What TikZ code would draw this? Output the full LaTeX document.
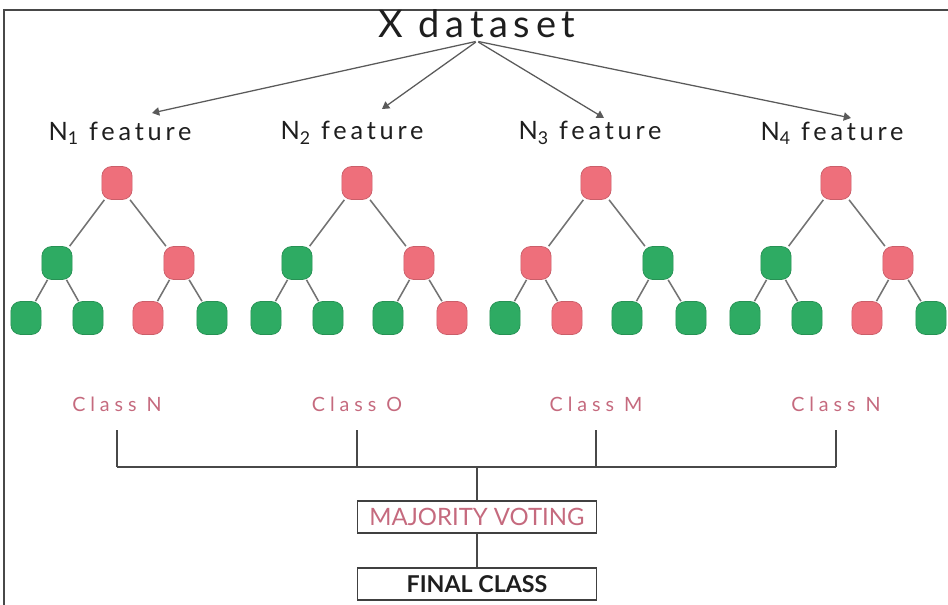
\documentclass[tikz,border=0pt]{standalone}
\usepackage{fontspec}
\setmainfont{Lato}
\newfontfamily\widefont[LetterSpace=15]{Lato}
\newfontfamily\loosefont[LetterSpace=25]{Lato}
\usetikzlibrary{arrows.meta,positioning}
\definecolor{ink}{HTML}{1E1E1E}
\definecolor{wire}{HTML}{5A5A5A}
\definecolor{good}{HTML}{2EAB63}
\definecolor{bad}{HTML}{EE6F7B}
\definecolor{rose}{HTML}{C56A7E}
\tikzset{>=Triangle,
  frame/.style={draw=wire!80!black,line width=1.4pt},
  title/.style={font=\fontsize{27}{30}\selectfont\widefont,text=ink,inner sep=2pt},
  feature/.style={font=\fontsize{18}{20}\selectfont\widefont,text=ink},
  pointer/.style={->,draw=wire,line width=.9pt,shorten <=1pt},
  treenode/.style={rounded corners=7pt,minimum width=21.5pt,minimum height=23.5pt,
    inner sep=0pt,line width=.5pt},
  branch/.style={draw=wire!85,line width=1.1pt},
  verdict/.style={font=\fontsize{14}{16}\selectfont\loosefont,text=rose},
  bus/.style={draw=wire!80!black,line width=1.1pt},
  ballot/.style={draw=ink!85,line width=1.3pt,minimum width=170pt,minimum height=23pt,
    inner sep=0pt,font=\fontsize{17}{19}\selectfont}}
\begin{document}
\begin{tikzpicture}[x=0.025cm,y=-0.025cm]
\useasboundingbox (0,0) rectangle (948,605);
\draw[frame] (4,605) -- (4,10) -- (948,10);
% input and the four feature subsets
\node[title] (data) at (477,24) {X dataset};
\foreach \i/\x in {1/120,2/352,3/590,4/832}
  \node[feature] (f\i) at (\x,133) {N\textsubscript{\i} feature};
\foreach \i/\x/\y in {1/152/113,2/382/109,3/604/118,4/851/118} {
  \coordinate (t\i) at (\x,\y);
  \draw[pointer] (data.south) -- (t\i);}
% one decision tree per subset
\foreach \t/\cx/\l/\r/\a/\b/\c/\d in {1/117/good/bad/good/good/bad/good,
    2/357/good/bad/good/good/good/bad,3/596/bad/good/good/bad/good/good,
    4/836/good/bad/good/good/bad/good} {
  \node[treenode,fill=bad,draw=bad!85!black] (r\t) at (\cx,183) {};
  \node[treenode,fill=\l,draw=\l!85!black] (l\t) at (\cx-60,263) {};
  \node[treenode,fill=\r,draw=\r!85!black] (q\t) at (\cx+62,263) {};
  \node[treenode,fill=\a,draw=\a!85!black] (la\t) at (\cx-91,318) {};
  \node[treenode,fill=\b,draw=\b!85!black] (lb\t) at (\cx-29,318) {};
  \node[treenode,fill=\c,draw=\c!85!black] (qa\t) at (\cx+31,318) {};
  \node[treenode,fill=\d,draw=\d!85!black] (qb\t) at (\cx+95,318) {};
  \draw[branch] (r\t) -- (l\t) (r\t) -- (q\t)
    (l\t) -- (la\t) (l\t) -- (lb\t) (q\t) -- (qa\t) (q\t) -- (qb\t);}
% votes
\foreach \i/\x/\txt in {1/117/N,2/357/O,3/596/M,4/836/N}
  \node[verdict] (c\i) at (\x,404) {Class \txt};
\coordinate (join) at (477,467);
\foreach \i in {1,...,4}
  \draw[bus] (c\i.center) ++(0,26) -- (c\i |- join);
\draw[bus] (c1 |- join) -- (c4 |- join);
\node[ballot,text=rose] (vote) at (477,517) {MAJORITY VOTING};
\node[ballot,text=ink,font=\fontsize{16.5}{18}\selectfont\bfseries] (final) at (477,584) {FINAL CLASS};
\draw[bus] (join) -- (vote);
\draw[bus] (vote) -- (final);
\end{tikzpicture}
\end{document}
